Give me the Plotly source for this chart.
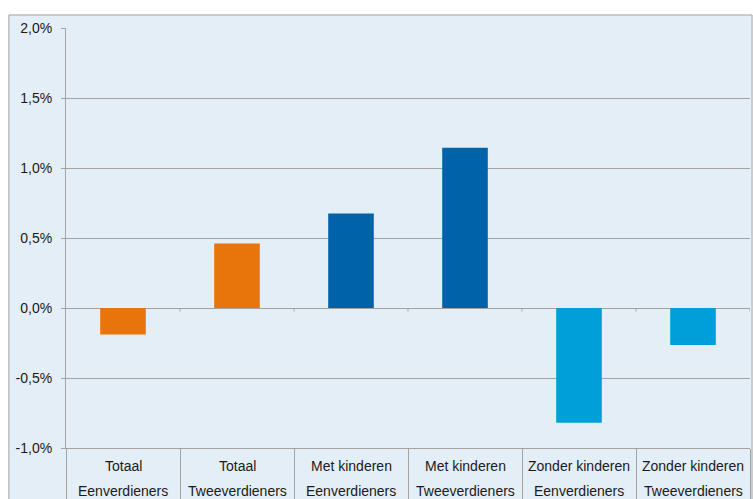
import plotly.graph_objects as go

# Household groups: two text lines per category
groep = ["Totaal", "Totaal", "Met kinderen", "Met kinderen", "Zonder kinderen", "Zonder kinderen"]
type_ = ["Eenverdieners", "Tweeverdieners", "Eenverdieners", "Tweeverdieners", "Eenverdieners", "Tweeverdieners"]
# Change in percent
waarden = [-0.19, 0.46, 0.675, 1.145, -0.82, -0.265]
kleuren = ["#E8740C", "#E8740C", "#0063A9", "#0063A9", "#009FDA", "#009FDA"]

y_ticks = [-1.0, -0.5, 0.0, 0.5, 1.0, 1.5, 2.0]
y_labels = [f"{v:.1f}%".replace(".", ",") for v in y_ticks]

x = list(range(len(waarden)))
grenzen = [i - 0.5 for i in range(len(waarden) + 1)]
grid = "#A3A3A3"
bg = "#E4EEF7"
font = "Liberation Sans, Arial, sans-serif"
tekst = "#1A1A1A"

fig = go.Figure(
    go.Bar(x=x, y=waarden, marker=dict(color=kleuren, line=dict(width=0)), width=0.4)
)

shapes = [
    # outer frame with light background
    dict(type="rect", xref="paper", yref="paper", x0=-0.0835, x1=1.003, y0=-0.2, y1=1.031,
         fillcolor=bg, line=dict(color=grid, width=1), layer="below"),
]
# small ticks on the zero line at category boundaries
for b in grenzen[1:]:
    shapes.append(dict(type="line", xref="x", yref="y", x0=b, x1=b,
                       y0=0, y1=-0.025, line=dict(color=grid, width=1)))

annotations = []
for i, (g, t) in enumerate(zip(groep, type_)):
    annotations.append(dict(x=i, y=-0.043, xref="x", yref="paper", text=g, showarrow=False,
                            yanchor="middle", font=dict(size=14, color=tekst, family=font)))
    annotations.append(dict(x=i, y=-0.1025, xref="x", yref="paper", text=t, showarrow=False,
                            yanchor="middle", font=dict(size=14, color=tekst, family=font)))

fig.update_layout(
    width=753, height=499,
    margin=dict(l=66, r=3, t=28, b=51, autoexpand=False),
    paper_bgcolor="white",
    plot_bgcolor=bg,
    showlegend=False,
    shapes=shapes,
    annotations=annotations,
    font=dict(family=font, size=14, color=tekst),
    xaxis=dict(
        range=[-0.5, len(waarden) - 0.5], automargin=False,
        # long boundary ticks form the separators of the label table
        tickmode="array", tickvals=grenzen, showticklabels=False,
        ticks="outside", ticklen=60, tickcolor=grid, tickwidth=1,
        showgrid=False, zeroline=False, showline=True, linecolor=grid, linewidth=1,
    ),
    yaxis=dict(
        range=[-1.0, 2.0], automargin=False,
        tickmode="array", tickvals=y_ticks, ticktext=y_labels,
        ticks="outside", ticklen=4, tickcolor=grid, tickwidth=1,
        showgrid=True, gridcolor=grid, gridwidth=1,
        zeroline=True, zerolinecolor=grid, zerolinewidth=1,
        showline=True, linecolor=grid, linewidth=1,
        ticklabelstandoff=6,
        tickfont=dict(size=14, color=tekst, family=font),
    ),
)

fig.write_html("out.html")
